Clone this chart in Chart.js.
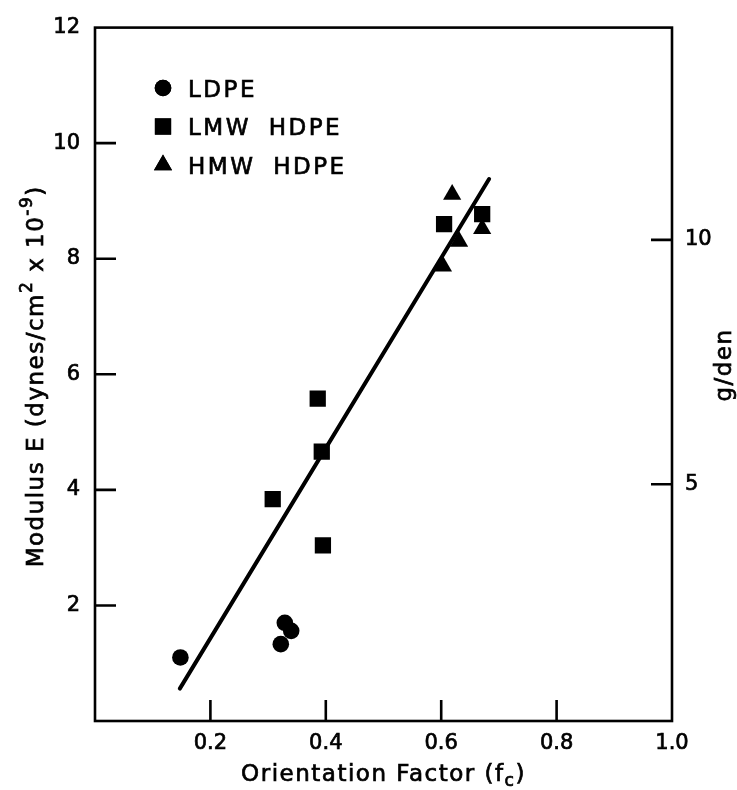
<!DOCTYPE html>
<html>
<head>
<meta charset="utf-8">
<script src="https://cdn.jsdelivr.net/npm/chart.js@4.4.1/dist/chart.umd.min.js"></script>
<style>
  html, body { margin: 0; padding: 0; background: #fff; }
</style>
</head>
<body>
<canvas id="chart" width="737" height="790"></canvas>
<script>
// orientation factor (fc) vs modulus E (dynes/cm^2 x 1e-9)
const ldpeX = [0.148, 0.329, 0.340, 0.322];
const ldpeY = [1.10, 1.70, 1.56, 1.33];
const lmwX = [0.386, 0.393, 0.308, 0.395, 0.605, 0.671];
const lmwY = [5.58, 4.66, 3.84, 3.04, 8.60, 8.77];
const hmwX = [0.619, 0.671, 0.631, 0.603];
const hmwY = [9.11, 8.52, 8.30, 7.87];
const fitX = [0.147, 0.683];
const fitY = [0.56, 9.38];

const xTicks = [0.2, 0.4, 0.6, 0.8, 1.0];
const yTicks = [2, 4, 6, 8, 10, 12];
const gdenTicks = [5, 10];
const gdenMin = 0.16, gdenMax = 14.34;

const FONT = 'DejaVu Sans';
const TICK = 21;

function pts(xs, ys) {
    return xs.map((x, i) => ({ x: x, y: ys[i] }));
}

// draws text pieces side by side (for super/subscripts), with a thin stroke to thicken
function drawRich(ctx, parts, x, y, align) {
    let total = 0;
    parts.forEach(p => {
        ctx.font = p.size + 'px "' + FONT + '"';
        p.w = ctx.measureText(p.t).width;
        total += p.w;
    });
    let cx = align === 'center' ? x - total / 2 : x;
    parts.forEach(p => {
        ctx.font = p.size + 'px "' + FONT + '"';
        ctx.fillText(p.t, cx, y + (p.dy || 0));
        ctx.strokeText(p.t, cx, y + (p.dy || 0));
        cx += p.w;
    });
}

const framePlugin = {
    id: 'frame',
    beforeDatasetsDraw(chart) {
        const { ctx, chartArea: a, scales } = chart;
        ctx.save();
        ctx.strokeStyle = '#000';
        ctx.lineWidth = 2.6;
        ctx.strokeRect(a.left, a.top, a.right - a.left, a.bottom - a.top);
        ctx.beginPath();
        xTicks.forEach(v => {
            if (v >= 1) return;
            const px = scales.x.getPixelForValue(v);
            ctx.moveTo(px, a.bottom);
            ctx.lineTo(px, a.bottom - TICK);
        });
        yTicks.forEach(v => {
            if (v >= 12) return;
            const py = scales.y.getPixelForValue(v);
            ctx.moveTo(a.left, py);
            ctx.lineTo(a.left + TICK, py);
        });
        gdenTicks.forEach(v => {
            const py = scales.y2.getPixelForValue(v);
            ctx.moveTo(a.right, py);
            ctx.lineTo(a.right - TICK, py);
        });
        ctx.stroke();
        ctx.restore();
    },
    afterDraw(chart) {
        const { ctx, chartArea: a } = chart;
        ctx.save();
        ctx.fillStyle = '#000';
        ctx.strokeStyle = '#000';
        ctx.lineWidth = 0.7;
        ctx.textAlign = 'left';
        ctx.textBaseline = 'alphabetic';
        if ('letterSpacing' in ctx) ctx.letterSpacing = '1.5px';

        // x title
        drawRich(ctx, [
            { t: 'Orientation Factor (f', size: 23 },
            { t: 'c', size: 17, dy: 5 },
            { t: ')', size: 23 }
        ], (a.left + a.right) / 2, 781, 'center');

        // left title
        ctx.save();
        ctx.translate(43, (a.top + a.bottom) / 2 + 2);
        ctx.rotate(-Math.PI / 2);
        drawRich(ctx, [
            { t: 'Modulus E (dynes/cm', size: 23 },
            { t: '2', size: 17, dy: -11 },
            { t: ' x 10', size: 23 },
            { t: '-9', size: 17, dy: -11 },
            { t: ')', size: 23 }
        ], 0, 0, 'center');
        ctx.restore();

        // right title
        ctx.save();
        ctx.translate(731, 365);
        ctx.rotate(-Math.PI / 2);
        drawRich(ctx, [{ t: 'g/den', size: 23 }], 0, 0, 'center');
        ctx.restore();

        // legend
        if ('wordSpacing' in ctx) ctx.wordSpacing = '8px';
        if ('letterSpacing' in ctx) ctx.letterSpacing = '2.5px';
        let ly = 88;
        chart.data.datasets.forEach(ds => {
            if (!ds.inLegend) return;
            if (Chart.helpers && Chart.helpers.drawPoint) {
                Chart.helpers.drawPoint(ctx, {
                    pointStyle: ds.pointStyle,
                    radius: ds.pointRadius,
                    borderWidth: 0,
                    rotation: 0
                }, 163, ly);
                ctx.fill();
            }
            drawRich(ctx, [{ t: ds.label, size: 23 }], 188, ly + 8.5, 'left');
            ly += 38.5;
        });
        ctx.restore();
    }
};

const tickOpts = {
    font: { family: FONT, size: 21 },
    color: '#000',
    textStrokeColor: '#000',
    textStrokeWidth: 0.7,
    autoSkip: false,
    maxRotation: 0
};

const ctx = document.getElementById('chart').getContext('2d');
const chart = new Chart(ctx, {
    type: 'scatter',
    data: {
        datasets: [
            {
                label: 'LDPE',
                data: pts(ldpeX, ldpeY),
                pointStyle: 'circle',
                pointRadius: 8.3,
                backgroundColor: '#000',
                borderWidth: 0,
                inLegend: true,
                yAxisID: 'y'
            },
            {
                label: 'LMW HDPE',
                data: pts(lmwX, lmwY),
                pointStyle: 'rect',
                pointRadius: 11.5,
                backgroundColor: '#000',
                borderWidth: 0,
                inLegend: true,
                yAxisID: 'y'
            },
            {
                label: 'HMW HDPE',
                data: pts(hmwX, hmwY),
                pointStyle: 'triangle',
                pointRadius: 10.5,
                backgroundColor: '#000',
                borderWidth: 0,
                inLegend: true,
                yAxisID: 'y'
            },
            {
                label: 'fit',
                type: 'line',
                data: pts(fitX, fitY),
                showLine: true,
                pointRadius: 0,
                borderColor: '#000',
                borderWidth: 4,
                borderCapStyle: 'round',
                fill: false,
                yAxisID: 'y'
            }
        ]
    },
    options: {
        responsive: false,
        animation: false,
        devicePixelRatio: 1,
        layout: { padding: { top: 15, left: 0, right: 0, bottom: 0 } },
        plugins: {
            legend: { display: false },
            tooltip: { enabled: false }
        },
        scales: {
            x: {
                type: 'linear',
                min: 0,
                max: 1,
                afterBuildTicks: s => { s.ticks = xTicks.map(v => ({ value: v })); },
                afterFit: s => { s.height = 69; },
                grid: { display: false, drawTicks: false },
                border: { display: false },
                ticks: Object.assign({}, tickOpts, { padding: 10, callback: v => v.toFixed(1) })
            },
            y: {
                type: 'linear',
                position: 'left',
                min: 0,
                max: 12,
                afterBuildTicks: s => { s.ticks = yTicks.map(v => ({ value: v })); },
                afterFit: s => { s.width = 95; },
                grid: { display: false, drawTicks: false },
                border: { display: false },
                ticks: Object.assign({}, tickOpts, { padding: 15, callback: v => String(v) })
            },
            y2: {
                type: 'linear',
                position: 'right',
                min: gdenMin,
                max: gdenMax,
                afterBuildTicks: s => { s.ticks = gdenTicks.map(v => ({ value: v })); },
                afterFit: s => { s.width = 65; },
                grid: { display: false, drawTicks: false },
                border: { display: false },
                ticks: Object.assign({}, tickOpts, { padding: 13, callback: v => String(v) })
            }
        }
    },
    plugins: [framePlugin]
});
</script>
</body>
</html>
